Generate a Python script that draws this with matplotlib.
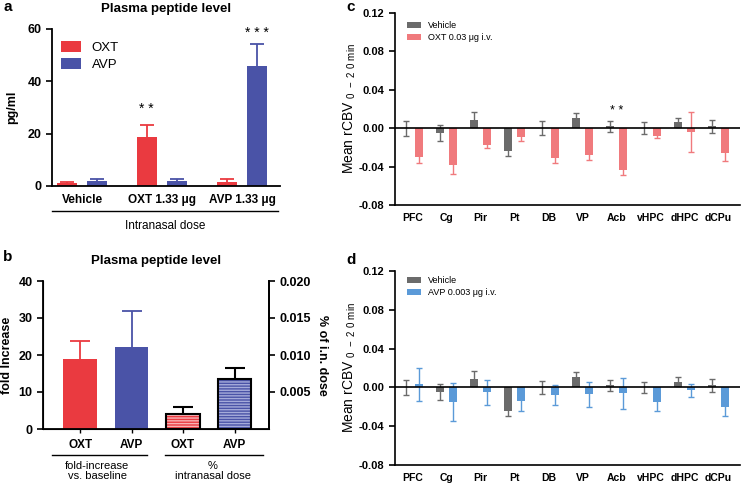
import numpy as np
import matplotlib
matplotlib.use("Agg")
import matplotlib.pyplot as plt
from matplotlib.lines import Line2D

plt.rcParams['font.family'] = ['Liberation Sans', 'DejaVu Sans']

# ---------------- data ----------------
# panel a
a_groups = ["Vehicle", "OXT 1.33 \u03bcg", "AVP 1.33 \u03bcg"]
a_oxt = [1.3, 18.6, 1.5]
a_oxt_err = [0.4, 4.8, 1.2]
a_avp = [2.1, 2.1, 45.9]
a_avp_err = [0.5, 0.5, 8.4]

# panel b
b_labels = ["OXT", "AVP", "OXT", "AVP"]
b_fold = [18.8, 22.1]
b_fold_err = [5.0, 9.9]
b_pct = [0.0020, 0.0067]
b_pct_err = [0.0010, 0.0015]

# panels c/d
regions = ["PFC", "Cg", "Pir", "Pt", "DB", "VP", "Acb", "vHPC", "dHPC", "dCPu"]
veh = [0.000, -0.005, 0.009, -0.024, 0.000, 0.011, 0.002, 0.000, 0.006, 0.002]
veh_err = [0.008, 0.008, 0.008, 0.005, 0.007, 0.005, 0.006, 0.006, 0.005, 0.007]
oxt = [-0.030, -0.038, -0.018, -0.009, -0.031, -0.028, -0.044, -0.008, -0.004, -0.026]
oxt_err = [0.006, 0.010, 0.003, 0.004, 0.005, 0.005, 0.005, 0.002, 0.021, 0.008]
avp = [0.003, -0.015, -0.005, -0.014, -0.008, -0.007, -0.006, -0.015, -0.003, -0.020]
avp_err = [0.017, 0.020, 0.013, 0.010, 0.010, 0.013, 0.016, 0.009, 0.007, 0.009]

RED = '#EA3A40'
BLUE = '#4A53A7'
GRAY = '#6B6B6B'
PINK = '#F07A7D'
LBLUE = '#5B9AD8'

W, H = 744, 487
fig = plt.figure(figsize=(W / 100, H / 100), dpi=100)


def px_axes(l, t, r, b):
    return fig.add_axes([l / W, 1 - b / H, (r - l) / W, (b - t) / H])


def fig_line(x0, x1, y):
    fig.add_artist(Line2D([x0 / W, x1 / W], [1 - y / H, 1 - y / H],
                          color='black', lw=1.0, transform=fig.transFigure))


def fig_text(x, y, s, **kw):
    fig.text(x / W, 1 - y / H, s, **kw)

# ---------------- panel a ----------------
ax = px_axes(52, 29, 280, 186)
xg = np.arange(len(a_groups))
off, bw = 0.19, 0.25
ax.errorbar(xg - off, a_oxt, yerr=a_oxt_err, fmt='none',
            ecolor=RED, elinewidth=1.3, capsize=5, capthick=1.3, zorder=1)
ax.errorbar(xg + off, a_avp, yerr=a_avp_err, fmt='none',
            ecolor=BLUE, elinewidth=1.3, capsize=5, capthick=1.3, zorder=1)
ax.bar(xg - off, a_oxt, bw, color=RED, label='OXT', zorder=2)
ax.bar(xg + off, a_avp, bw, color=BLUE, label='AVP', zorder=2)
ax.set_xlim(-0.375, 2.475)
ax.set_ylim(0, 60)
ax.set_yticks([0, 20, 40, 60])
ax.set_xticks(xg)
ax.set_xticklabels(a_groups, fontsize=8.5, fontweight='bold')
ax.tick_params(axis='x', length=0, pad=6)
ax.tick_params(axis='y', labelsize=9, width=1.2, length=4)
for t in ax.get_yticklabels():
    t.set_fontweight('bold')
ax.set_ylabel('pg/ml', fontsize=9, fontweight='bold', labelpad=7)
for s in ['top', 'right']:
    ax.spines[s].set_visible(False)
for s in ['left', 'bottom']:
    ax.spines[s].set_linewidth(1.3)
ax.legend(loc='upper left', bbox_to_anchor=(0.0, 0.98), frameon=False,
          fontsize=9.5, handlelength=1.5, handleheight=0.9, labelspacing=0.3,
          borderaxespad=0.3)
ax.text(1 - off, a_oxt[1] + a_oxt_err[1] + 3.5, '* *', ha='center', va='bottom',
        fontsize=10)
ax.text(2 + off, a_avp[2] + a_avp_err[2] + 1.5, '* * *', ha='center', va='bottom',
        fontsize=10)
ax.set_title('Plasma peptide level', fontsize=9.5, fontweight='bold', pad=12)
fig_line(52, 278, 211)
fig_text(165, 226, 'Intranasal dose', ha='center', va='center', fontsize=8.5)
fig_text(3, 7, 'a', fontsize=11, fontweight='bold', va='center')

# ---------------- panel b ----------------
axb = px_axes(43, 281, 269, 429)
bx = np.arange(4)
bbw = 0.65
for xi, v, e, c in zip(bx[:2], b_fold, b_fold_err, [RED, BLUE]):
    axb.errorbar([xi], [v], yerr=[e], fmt='none', ecolor=c,
                 elinewidth=1.3, capsize=7, capthick=1.3, zorder=1)
axb.bar(bx[:2], b_fold, bbw, color=[RED, BLUE], zorder=2)
axb.set_xlim(-0.72, 3.67)
axb.set_ylim(0, 40)
axb.set_yticks([0, 10, 20, 30, 40])
axb.set_xticks(bx)
axb.set_xticklabels(b_labels, fontsize=8.5, fontweight='bold')
axb.tick_params(axis='x', length=3, width=1.0, pad=4)
axb.tick_params(axis='y', labelsize=9, width=1.2, length=4)
for t in axb.get_yticklabels():
    t.set_fontweight('bold')
axb.set_ylabel('fold Increase', fontsize=9, fontweight='bold', labelpad=4)
axb.spines['top'].set_visible(False)
for s in ['left', 'bottom', 'right']:
    axb.spines[s].set_linewidth(1.3)
axb.set_title('Plasma peptide level', fontsize=9.5, fontweight='bold', pad=12)

axr = axb.twinx()
axr.set_ylim(0, 0.020)
axr.set_yticks([0.005, 0.010, 0.015, 0.020])
axr.set_yticklabels(['0.005', '0.010', '0.015', '0.020'])
axr.errorbar(bx[2:], b_pct, yerr=b_pct_err, fmt='none',
             ecolor='black', elinewidth=1.5, capsize=7, capthick=1.5, zorder=1)
for xi, v, c, hc in zip(bx[2:], b_pct, [RED, BLUE], ['#F8B3B5', '#A5ABDA']):
    axr.bar(xi, v, bbw, color=c, edgecolor=hc, hatch='------', linewidth=0, zorder=2)
    axr.bar(xi, v, bbw, fill=False, edgecolor='black', linewidth=1.5, zorder=3)
axr.tick_params(axis='y', labelsize=9, width=1.2, length=4)
for t in axr.get_yticklabels():
    t.set_fontweight('bold')
axr.set_ylabel('% of i.n. dose', fontsize=9, fontweight='bold', rotation=270,
               labelpad=12)
axr.spines['top'].set_visible(False)
axr.spines['right'].set_linewidth(1.3)
fig_line(52, 147, 455)
fig_line(165, 263, 455)
fig_text(97, 461, 'fold-increase\nvs. baseline', ha='center', va='top',
         fontsize=8, linespacing=1.0)
fig_text(213, 461, '%\nintranasal dose', ha='center', va='top',
         fontsize=8, linespacing=1.0)
fig_text(3, 257, 'b', fontsize=11, fontweight='bold', va='center')

# ---------------- panels c & d ----------------
def region_panel(rect, vals, errs, color, label, panel, ypos, leg_y):
    axc = px_axes(*rect)
    rx = np.arange(len(regions))
    o, w = 0.19, 0.25
    axc.errorbar(rx - o, veh, yerr=veh_err, fmt='none', ecolor=GRAY,
                 elinewidth=1.0, capsize=2.5, capthick=1.0, zorder=1)
    axc.errorbar(rx + o, vals, yerr=errs, fmt='none', ecolor=color,
                 elinewidth=1.0, capsize=2.5, capthick=1.0, zorder=1)
    axc.bar(rx - o, veh, w, color=GRAY, label='Vehicle', zorder=2)
    axc.bar(rx + o, vals, w, color=color, label=label, zorder=2)
    axc.axhline(0, color='black', lw=1.2, zorder=3)
    axc.set_xlim(-0.52, 9.63)
    axc.set_ylim(-0.08, 0.12)
    axc.set_yticks([-0.08, -0.04, 0.0, 0.04, 0.08, 0.12])
    axc.set_yticklabels(['-0.08', '-0.04', '0.00', '0.04', '0.08', '0.12'])
    axc.set_xticks(rx)
    axc.set_xticklabels(regions, fontsize=7.5, fontweight='bold')
    axc.tick_params(axis='x', length=0, pad=6)
    axc.tick_params(axis='y', labelsize=8, width=1.2, length=4)
    for t in axc.get_yticklabels():
        t.set_fontweight('bold')
    axc.set_ylabel('Mean rCBV $_{\\mathregular{0\\ -\\ 2\\ 0\\ min}}$',
                   fontsize=10, labelpad=1)
    for s in ['top', 'right']:
        axc.spines[s].set_visible(False)
    for s in ['left', 'bottom']:
        axc.spines[s].set_linewidth(1.2)
    axc.legend(loc='upper left', bbox_to_anchor=(0.02, leg_y), frameon=False,
               fontsize=6.5, handlelength=1.5, handleheight=0.7,
               labelspacing=0.3, borderaxespad=0.2)
    fig_text(346, ypos, panel, fontsize=11, fontweight='bold', va='center')
    return axc

axc = region_panel((395, 13, 740, 205), oxt, oxt_err, PINK,
                   'OXT 0.03 \u03bcg i.v.', 'c', 7, 0.985)
axc.text(6, 0.012, '* *', ha='center', va='bottom', fontsize=9)
region_panel((395, 271, 740, 465), avp, avp_err, LBLUE,
             'AVP 0.003 \u03bcg i.v.', 'd', 260, 1.0)

fig.savefig('out.png', dpi=100)
